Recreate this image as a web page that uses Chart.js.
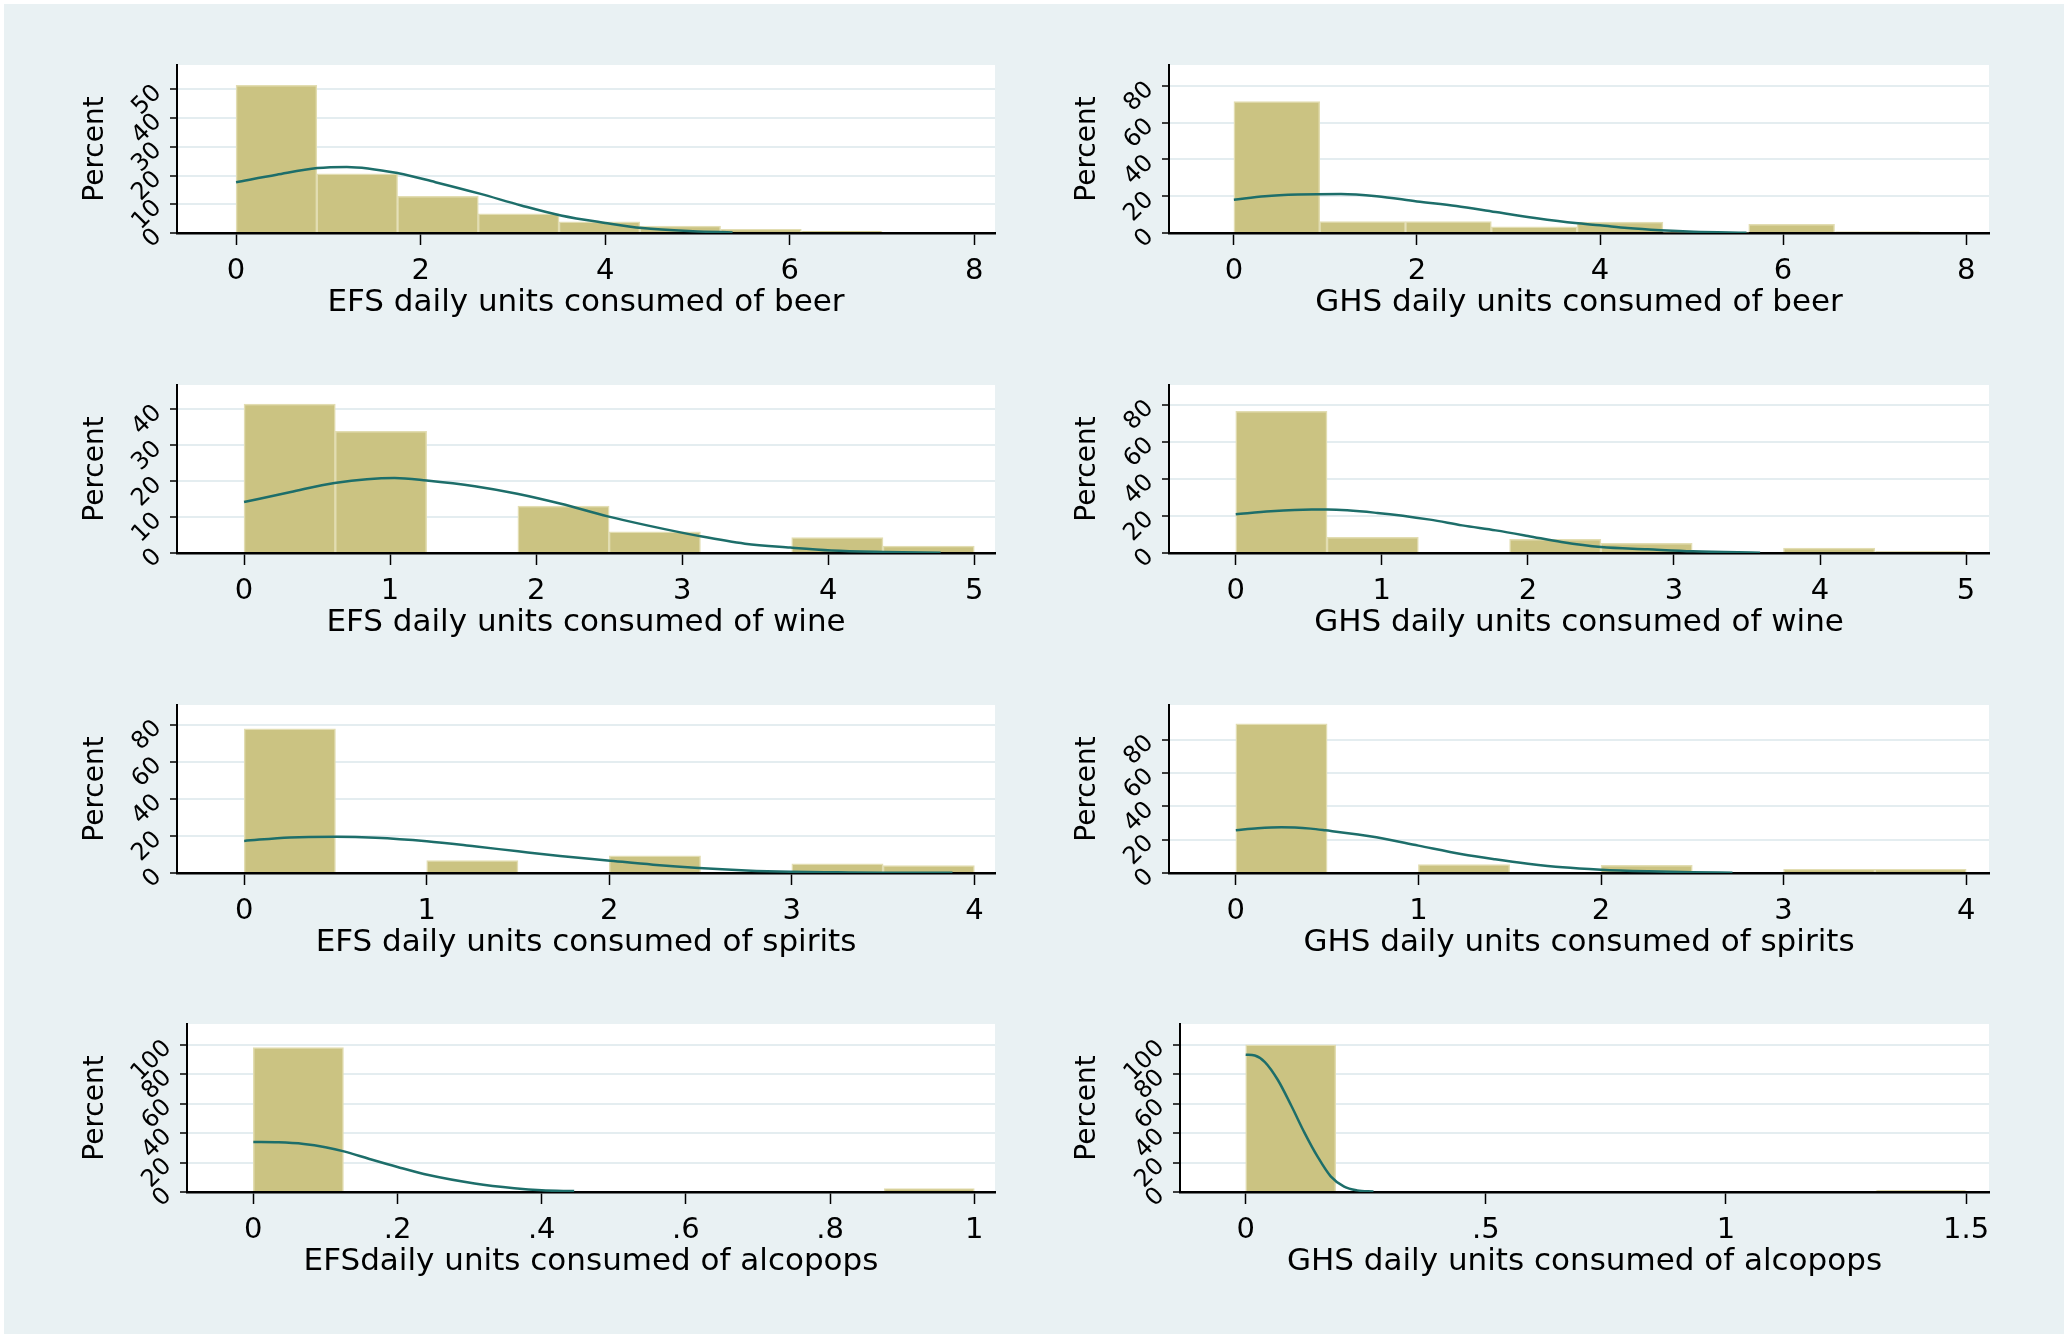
<!DOCTYPE html>
<html>
<head>
<meta charset="utf-8">
<script src="https://cdn.jsdelivr.net/npm/chart.js@4.4.1/dist/chart.umd.min.js"></script>
<style>
  html, body { margin: 0; padding: 0; background: #fff; }
  #page { position: relative; width: 2068px; height: 1338px; overflow: hidden; }
  #fondo { position: absolute; left: 4px; top: 4px; right: 4px; bottom: 4px; background: #e9f1f3; }
  canvas { position: absolute; }
</style>
</head>
<body>
<div id="page"><div id="fondo"></div></div>
<script>
// histograms: bin centres + percent, normal curve

// EFS beer
const efsBeerBins = [0.4375, 1.3125, 2.1875, 3.0625, 3.9375, 4.8125, 5.6875, 6.5625];
const efsBeerPct = [51.4, 20.6, 12.8, 6.7, 3.9, 2.4, 1.3, 0.6];
const efsBeerCurveX = [0, 0.44, 0.88, 1.2, 1.76, 2.16, 2.64, 3.09, 3.52, 4.0, 4.4, 4.95, 5.38];
const efsBeerCurveY = [17.7, 20.3, 22.6, 23.0, 20.8, 17.7, 13.7, 9.6, 6.1, 3.5, 1.7, 0.6, 0.2];
const efsBeerXTicks = [0, 2, 4, 6, 8];
const efsBeerYTicks = [0, 10, 20, 30, 40, 50];

// GHS beer
const ghsBeerBins = [0.46875, 1.40625, 2.34375, 3.28125, 4.21875, 5.15625, 6.09375, 7.03125];
const ghsBeerPct = [71.5, 6.2, 6.2, 3.3, 6.0, 0.5, 4.7, 0.7];
const ghsBeerCurveX = [0, 0.34, 0.7, 1.17, 1.56, 2.0, 2.43, 2.86, 3.29, 3.73, 4.0, 4.3, 4.66, 5.02, 5.6];
const ghsBeerCurveY = [18.1, 20.0, 20.9, 21.2, 20.0, 17.2, 14.7, 11.4, 8.2, 5.4, 4.2, 2.7, 1.5, 0.7, 0.2];
const ghsBeerXTicks = [0, 2, 4, 6, 8];
const ghsBeerYTicks = [0, 20, 40, 60, 80];

// EFS wine
const efsWineBins = [0.3125, 0.9375, 1.5625, 2.1875, 2.8125, 3.4375, 4.0625, 4.6875];
const efsWinePct = [41.5, 33.9, 0, 13.1, 5.9, 0, 4.3, 1.9];
const efsWineCurveX = [0, 0.32, 0.62, 1.03, 1.25, 1.58, 1.87, 2.17, 2.49, 2.76, 3.12, 3.43, 3.74, 4.02, 4.38, 4.77];
const efsWineCurveY = [14.2, 17.0, 19.5, 20.9, 20.2, 18.6, 16.5, 13.7, 10.2, 7.7, 4.7, 2.6, 1.5, 0.7, 0.3, 0.1];
const efsWineXTicks = [0, 1, 2, 3, 4, 5];
const efsWineYTicks = [0, 10, 20, 30, 40];

// GHS wine
const ghsWineBins = [0.3125, 0.9375, 1.5625, 2.1875, 2.8125, 3.4375, 4.0625, 4.6875];
const ghsWinePct = [76.4, 8.4, 0, 7.4, 5.2, 0, 2.7, 0.7];
const ghsWineCurveX = [0, 0.24, 0.52, 0.63, 0.97, 1.33, 1.55, 1.78, 2.0, 2.23, 2.5, 2.82, 3.13, 3.59];
const ghsWineCurveY = [20.9, 22.5, 23.4, 23.4, 21.6, 18.0, 14.9, 12.2, 9.2, 5.9, 3.2, 2.0, 0.9, 0.2];
const ghsWineXTicks = [0, 1, 2, 3, 4, 5];
const ghsWineYTicks = [0, 20, 40, 60, 80];

// EFS spirits
const efsSpiritsBins = [0.25, 0.75, 1.25, 1.75, 2.25, 2.75, 3.25, 3.75];
const efsSpiritsPct = [77.8, 0, 6.7, 0, 9.2, 0, 5.0, 4.0];
const efsSpiritsCurveX = [0, 0.25, 0.5, 0.72, 1.0, 1.26, 1.5, 1.73, 1.99, 2.24, 2.49, 2.75, 2.99, 3.25, 3.5, 3.88];
const efsSpiritsCurveY = [17.3, 19.2, 19.5, 19.0, 17.1, 14.4, 11.7, 9.2, 6.8, 4.5, 2.7, 1.4, 0.7, 0.4, 0.2, 0.2];
const efsSpiritsXTicks = [0, 1, 2, 3, 4];
const efsSpiritsYTicks = [0, 20, 40, 60, 80];

// GHS spirits
const ghsSpiritsBins = [0.25, 0.75, 1.25, 1.75, 2.25, 2.75, 3.25, 3.75];
const ghsSpiritsPct = [89.4, 0, 5.0, 0, 4.6, 0, 2.2, 2.2];
const ghsSpiritsCurveX = [0, 0.12, 0.25, 0.41, 0.49, 0.77, 1.0, 1.24, 1.42, 1.6, 1.79, 2.0, 2.26, 2.5, 2.72];
const ghsSpiritsCurveY = [25.6, 26.8, 27.4, 26.6, 25.6, 21.4, 16.4, 11.2, 8.2, 5.6, 3.4, 2.0, 1.0, 0.4, 0.2];
const ghsSpiritsXTicks = [0, 1, 2, 3, 4];
const ghsSpiritsYTicks = [0, 20, 40, 60, 80];

// EFS alcopops
const efsAlcoBins = [0.0625, 0.1875, 0.3125, 0.4375, 0.5625, 0.6875, 0.8125, 0.9375];
const efsAlcoPct = [98.0, 0, 0, 0, 0, 0, 0, 2.3];
const efsAlcoCurveX = [0, 0.035, 0.07, 0.1, 0.127, 0.16, 0.2, 0.243, 0.307, 0.362, 0.4, 0.445];
const efsAlcoCurveY = [33.9, 33.7, 32.6, 30.4, 27.4, 22.6, 17.0, 11.5, 5.8, 2.6, 1.2, 0.6];
const efsAlcoXTicks = [0, 0.2, 0.4, 0.6, 0.8, 1];
const efsAlcoYTicks = [0, 20, 40, 60, 80, 100];

// GHS alcopops
const ghsAlcoBins = [0.09375, 0.28125, 0.46875, 0.65625, 0.84375, 1.03125, 1.21875, 1.40625];
const ghsAlcoPct = [99.8, 0, 0, 0, 0, 0, 0, 0.9];
const ghsAlcoCurveX = [0, 0.019, 0.04, 0.067, 0.095, 0.122, 0.15, 0.177, 0.205, 0.232, 0.266];
const ghsAlcoCurveY = [93.2, 92.6, 88.2, 76.0, 58.5, 40.5, 23.8, 10.6, 3.6, 1.1, 0.4];
const ghsAlcoXTicks = [0, 0.5, 1, 1.5];
const ghsAlcoYTicks = [0, 20, 40, 60, 80, 100];

// layout
const FUENTE = "DejaVu Sans";
const PAD_TOP = 30;
const PAD_RIGHT = 30;
const ALTO_EJE_X = 89;

const paneles = [
  { bins: efsBeerBins, pct: efsBeerPct, cx: efsBeerCurveX, cy: efsBeerCurveY, xt: efsBeerXTicks, yt: efsBeerYTicks,
    titulo: "EFS daily units consumed of beer", xMin: -0.640, xMax: 8.224, yMax: 58.5,
    left: 79, plot: { left: 177, right: 995, top: 65, bottom: 233 } },
  { bins: ghsBeerBins, pct: ghsBeerPct, cx: ghsBeerCurveX, cy: ghsBeerCurveY, xt: ghsBeerXTicks, yt: ghsBeerYTicks,
    titulo: "GHS daily units consumed of beer", xMin: -0.709, xMax: 8.250, yMax: 91.4,
    left: 1071, plot: { left: 1169, right: 1989, top: 65, bottom: 233 } },
  { bins: efsWineBins, pct: efsWinePct, cx: efsWineCurveX, cy: efsWineCurveY, xt: efsWineXTicks, yt: efsWineYTicks,
    titulo: "EFS daily units consumed of wine", xMin: -0.459, xMax: 5.142, yMax: 46.8,
    left: 79, plot: { left: 177, right: 995, top: 385, bottom: 553 } },
  { bins: ghsWineBins, pct: ghsWinePct, cx: ghsWineCurveX, cy: ghsWineCurveY, xt: ghsWineXTicks, yt: ghsWineYTicks,
    titulo: "GHS daily units consumed of wine", xMin: -0.457, xMax: 5.157, yMax: 90.6,
    left: 1071, plot: { left: 1169, right: 1989, top: 385, bottom: 553 } },
  { bins: efsSpiritsBins, pct: efsSpiritsPct, cx: efsSpiritsCurveX, cy: efsSpiritsCurveY, xt: efsSpiritsXTicks, yt: efsSpiritsYTicks,
    titulo: "EFS daily units consumed of spirits", xMin: -0.368, xMax: 4.113, yMax: 90.6,
    left: 79, plot: { left: 177, right: 995, top: 705, bottom: 873 } },
  { bins: ghsSpiritsBins, pct: ghsSpiritsPct, cx: ghsSpiritsCurveX, cy: ghsSpiritsCurveY, xt: ghsSpiritsXTicks, yt: ghsSpiritsYTicks,
    titulo: "GHS daily units consumed of spirits", xMin: -0.366, xMax: 4.125, yMax: 100.7,
    left: 1071, plot: { left: 1169, right: 1989, top: 705, bottom: 873 } },
  { bins: efsAlcoBins, pct: efsAlcoPct, cx: efsAlcoCurveX, cy: efsAlcoCurveY, xt: efsAlcoXTicks, yt: efsAlcoYTicks,
    titulo: "EFSdaily units consumed of alcopops", xMin: -0.092, xMax: 1.0287, yMax: 114,
    left: 79, plot: { left: 187, right: 995, top: 1024, bottom: 1192 } },
  { bins: ghsAlcoBins, pct: ghsAlcoPct, cx: ghsAlcoCurveX, cy: ghsAlcoCurveY, xt: ghsAlcoXTicks, yt: ghsAlcoYTicks,
    titulo: "GHS daily units consumed of alcopops", xMin: -0.1368, xMax: 1.5477, yMax: 114,
    left: 1071, plot: { left: 1180, right: 1989, top: 1024, bottom: 1192 } },
];

// white plot region
const fondoBlanco = {
  id: "fondoBlanco",
  beforeDraw(chart) {
    const a = chart.chartArea;
    const ctx = chart.ctx;
    ctx.save();
    ctx.fillStyle = "#ffffff";
    ctx.fillRect(a.left, a.top, a.right - a.left, a.bottom - a.top);
    ctx.restore();
  },
};

function crearPanel(p) {
  const canvas = document.createElement("canvas");
  const w = p.plot.right + PAD_RIGHT - p.left;
  const h = p.plot.bottom - p.plot.top + PAD_TOP + ALTO_EJE_X;
  canvas.width = w;
  canvas.height = h;
  canvas.style.left = p.left + "px";
  canvas.style.top = p.plot.top - PAD_TOP + "px";
  canvas.style.width = w + "px";
  canvas.style.height = h + "px";
  document.getElementById("page").appendChild(canvas);

  new Chart(canvas, {
    type: "bar",
    data: {
      datasets: [
        {
          type: "line",
          data: p.cx.map((x, i) => ({ x: x, y: p.cy[i] })),
          borderColor: "#1d6e6a",
          borderWidth: 2.5,
          pointRadius: 0,
          cubicInterpolationMode: "monotone",
          fill: false,
        },
        {
          type: "bar",
          data: p.bins.map((x, i) => ({ x: x, y: p.pct[i] })),
          backgroundColor: "#cbc382",
          borderColor: "#e2ddb2",
          borderWidth: 1.5,
          barPercentage: 1,
          categoryPercentage: 1,
        },
      ],
    },
    options: {
      responsive: false,
      animation: false,
      devicePixelRatio: 1,
      layout: { padding: { top: PAD_TOP, right: PAD_RIGHT, left: 0, bottom: 0 } },
      plugins: { legend: { display: false }, tooltip: { enabled: false } },
      scales: {
        x: {
          type: "linear",
          min: p.xMin,
          max: p.xMax,
          offset: false,
          afterBuildTicks: (s) => {
            s.ticks = p.xt.map((v) => ({ value: v }));
          },
          afterFit: (s) => {
            s.height = ALTO_EJE_X;
          },
          ticks: {
            autoSkip: false,
            maxRotation: 0,
            padding: 9,
            color: "#000",
            font: { family: FUENTE, size: 29 },
            callback: (v) => String(v).replace(/^0\./, "."),
          },
          grid: { offset: false, drawOnChartArea: false, tickLength: 12, tickColor: "#000", tickWidth: 1.5 },
          border: { color: "#000", width: 2.5 },
          title: {
            display: true,
            text: p.titulo,
            color: "#000",
            font: { family: FUENTE, size: 31 },
            padding: 0,
          },
        },
        y: {
          min: 0,
          max: p.yMax,
          afterBuildTicks: (s) => {
            s.ticks = p.yt.map((v) => ({ value: v }));
          },
          afterFit: (s) => {
            s.width = p.plot.left - p.left;
          },
          ticks: {
            autoSkip: false,
            minRotation: 45,
            maxRotation: 45,
            padding: 12,
            color: "#000",
            font: { family: FUENTE, size: 24 },
          },
          grid: { color: "#e4edf0", lineWidth: 2, tickLength: 7, tickColor: "#000", tickWidth: 1.5 },
          border: { color: "#000", width: 2 },
          title: {
            display: true,
            text: "Percent",
            color: "#000",
            font: { family: FUENTE, size: 28 },
            padding: 0,
          },
        },
      },
    },
    plugins: [fondoBlanco],
  });
}

paneles.forEach(crearPanel);
</script>
</body>
</html>
